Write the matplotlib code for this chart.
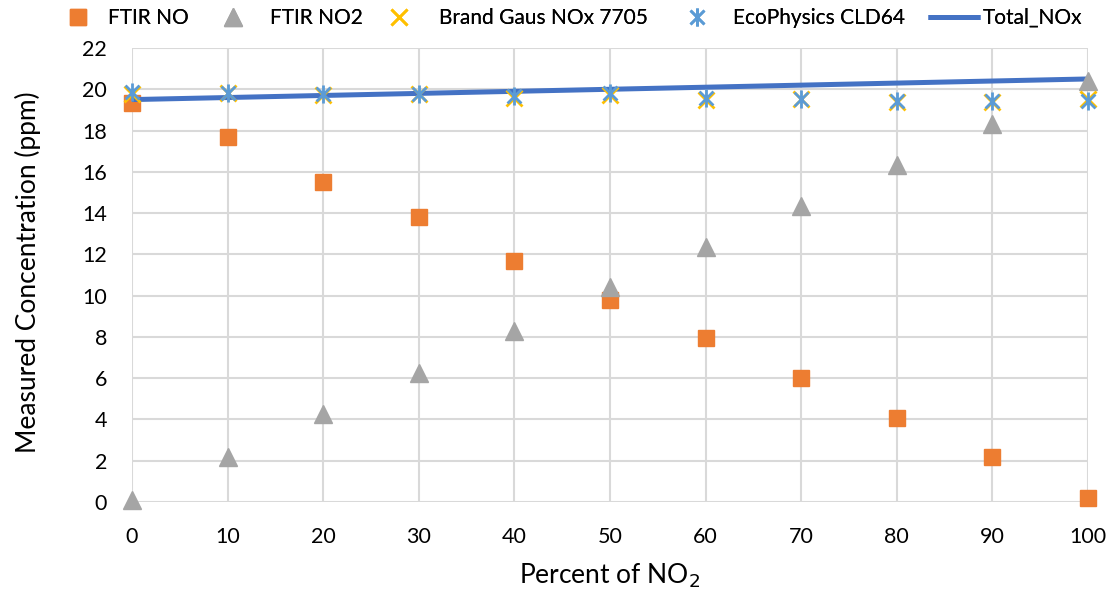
import matplotlib
matplotlib.use("Agg")
import matplotlib.pyplot as plt
from matplotlib.path import Path

# Percent of NO2 in the blend
percent_no2 = [0, 10, 20, 30, 40, 50, 60, 70, 80, 90, 100]

# Measured concentrations (ppm)
ftir_no = [19.35, 17.7, 15.5, 13.8, 11.7, 9.8, 7.95, 6.0, 4.05, 2.2, 0.2]
ftir_no2 = [0.1, 2.2, 4.25, 6.25, 8.3, 10.4, 12.35, 14.35, 16.35, 18.3, 20.4]
brand_gaus = [19.75, 19.8, 19.7, 19.75, 19.6, 19.7, 19.5, 19.55, 19.4, 19.4, 19.55]
ecophysics = [19.85, 19.8, 19.78, 19.75, 19.68, 19.8, 19.58, 19.55, 19.45, 19.45, 19.42]
total_nox = [19.5, 19.6, 19.7, 19.8, 19.9, 20.0, 20.1, 20.2, 20.3, 20.4, 20.5]

x_ticks = [0, 10, 20, 30, 40, 50, 60, 70, 80, 90, 100]
y_ticks = [0, 2, 4, 6, 8, 10, 12, 14, 16, 18, 20, 22]

plt.rcParams['font.family'] = ['Lato', 'DejaVu Sans']

W, H = 1112, 596
X0, X1, Y0, Y1 = 132, 1088, 502, 48  # plot area in pixels
fig = plt.figure(figsize=(W / 100, H / 100), dpi=100)
ax = fig.add_axes([X0 / W, 1 - Y0 / H, (X1 - X0) / W, (Y0 - Y1) / H])

# Asterisk marker: an X crossed by a vertical bar
star_path = Path(
    [(-1, -1), (1, 1), (-1, 1), (1, -1), (0, -1.3), (0, 1.3)],
    [Path.MOVETO, Path.LINETO, Path.MOVETO, Path.LINETO, Path.MOVETO, Path.LINETO],
)

h_no, = ax.plot(percent_no2, ftir_no, linestyle='none', marker='s', markersize=12,
                color='#ED7D31', label='FTIR NO', zorder=2, clip_on=False)
h_no2, = ax.plot(percent_no2, ftir_no2, linestyle='none', marker='^', markersize=13,
                 color='#A5A5A5', label='FTIR NO2', zorder=4, clip_on=False)
h_bg, = ax.plot(percent_no2, brand_gaus, linestyle='none', marker='x', markersize=12,
                markeredgewidth=2, color='#FFC000', label='Brand Gaus NOx 7705',
                zorder=5, clip_on=False)
h_eco, = ax.plot(percent_no2, ecophysics, linestyle='none', marker=star_path,
                 markersize=13, markeredgewidth=2, color='#5B9BD5',
                 label='EcoPhysics CLD64', zorder=6, clip_on=False)
h_tot, = ax.plot(percent_no2, total_nox, linestyle='-', linewidth=3.6, color='#4472C4',
                 label='Total_NOx', zorder=3, clip_on=False, solid_capstyle='butt')

ax.set_xlim(0, 100)
ax.set_ylim(0, 22)
ax.set_xticks(x_ticks)
ax.set_yticks(y_ticks)
ax.tick_params(axis='both', length=0, labelsize=15.5, colors='#000000')
ax.tick_params(axis='x', pad=18)
ax.tick_params(axis='y', pad=18)
ax.grid(True, color='#D9D9D9', linewidth=1.5, zorder=0)
ax.set_axisbelow(True)
for side in ['top', 'right', 'left', 'bottom']:
    ax.spines[side].set_visible(False)

ax.set_xlabel('Percent of NO$_2$', fontsize=19, va='center')
ax.set_ylabel('Measured Concentration (ppm)', fontsize=19, va='center')
ax.xaxis.set_label_coords((610 - X0) / (X1 - X0), (Y0 - 576) / (Y0 - Y1))
ax.yaxis.set_label_coords((28 - X0) / (X1 - X0), (Y0 - 272) / (Y0 - Y1))

# Legend entries laid out along the top of the figure
leg_fs = 15
leg_px = leg_fs * 100 / 72
legend_y = 1 - 18 / H
entries = [
    (h_no, 78, 108, None),
    (h_no2, 233, 270, None),
    (h_bg, 399, 439, None),
    (h_eco, 697, 733, None),
    (h_tot, None, 983, (928, 980)),
]
for handle, centre, text_x, span in entries:
    if span is None:
        hl = 1.0
        start = centre - hl * leg_px / 2
    else:
        hl = (span[1] - span[0]) / leg_px
        start = span[0]
    pad = (text_x - start - hl * leg_px) / leg_px
    leg = fig.legend(handles=[handle], loc='center left',
                     bbox_to_anchor=(start / W, legend_y), frameon=False,
                     fontsize=leg_fs, handlelength=hl, handletextpad=pad,
                     borderpad=0, borderaxespad=0)
    fig.add_artist(leg)

fig.savefig('out.png', dpi=100)
